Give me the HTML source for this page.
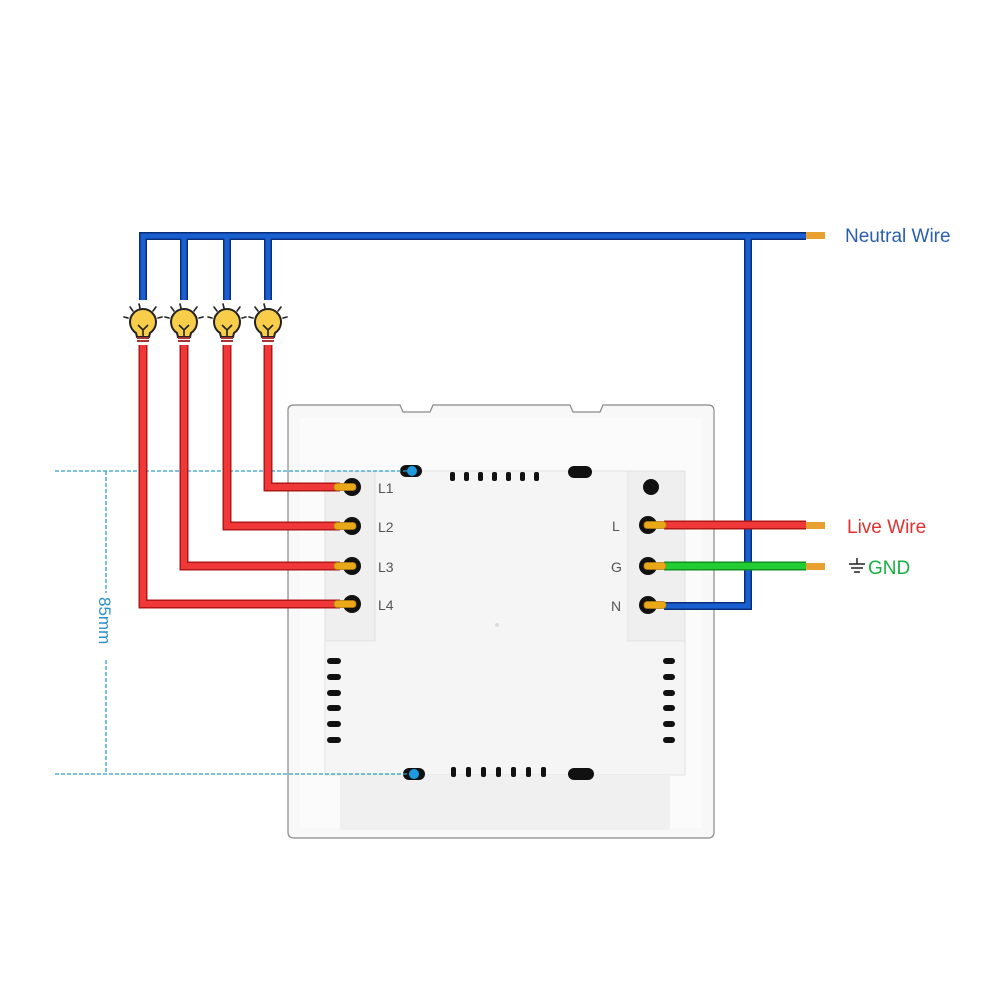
<!DOCTYPE html>
<html><head><meta charset="utf-8"><style>html,body{margin:0;padding:0;background:#fff}svg{display:block}</style></head>
<body>
<svg width="1000" height="1000" viewBox="0 0 1000 1000" xmlns="http://www.w3.org/2000/svg" font-family="Liberation Sans, sans-serif">
<defs>
<g id="bulb">
  <g stroke="#222" stroke-width="1.6" stroke-linecap="round">
    <line x1="-13" y1="-16" x2="-10" y2="-12"/><line x1="13" y1="-16" x2="10" y2="-12"/>
    <line x1="-19" y1="-6" x2="-15" y2="-5"/><line x1="19" y1="-6" x2="15" y2="-5"/>
    <line x1="-4" y1="-19" x2="-3" y2="-15"/>
  </g>
  <path d="M-7,10 A13,13 0 1 1 7,10 L6,14 L-6,14 Z" fill="#f8cd4a" stroke="#222" stroke-width="2"/>
  <path d="M-5,2 L0,7 L5,2 M0,7 L0,13" fill="none" stroke="#222" stroke-width="1.6"/>
  <rect x="-6" y="14" width="12" height="2" fill="#a33"/>
  <rect x="-6" y="17" width="12" height="2" fill="#a33"/>
</g>
<g id="term"><circle r="9" fill="#111"/><rect x="-18" y="-3.5" width="22" height="7" rx="3" fill="#e8a818" stroke="#b07a10" stroke-width="0.8"/></g>
</defs>

<path d="M288,410 Q288,405 294,405 L400,405 L403,412 L430,412 L433,405 L570,405 L573,412 L600,412 L603,405 L708,405 Q714,405 714,411 L714,832 Q714,838 708,838 L294,838 Q288,838 288,832 Z" fill="#f8f8f8" stroke="#888" stroke-width="1.2"/>
<rect x="300" y="418" width="402" height="410" fill="#fbfbfb"/>
<rect x="325" y="471" width="360" height="304" fill="#f5f5f5" stroke="#e2e2e2"/>
<rect x="325" y="471" width="50" height="170" fill="#efefef" stroke="#e2e2e2"/>
<rect x="628" y="471" width="57" height="170" fill="#efefef" stroke="#e2e2e2"/>
<rect x="340" y="775" width="330" height="55" fill="#f0f0f0"/>
<g fill="#111">
<rect x="400" y="465" width="22" height="12" rx="6"/>
<rect x="568" y="466" width="24" height="12" rx="6"/>
<rect x="450" y="472" width="5" height="9" rx="2"/><rect x="464" y="472" width="5" height="9" rx="2"/>
<rect x="478" y="472" width="5" height="9" rx="2"/><rect x="492" y="472" width="5" height="9" rx="2"/>
<rect x="506" y="472" width="5" height="9" rx="2"/><rect x="520" y="472" width="5" height="9" rx="2"/>
<rect x="534" y="472" width="5" height="9" rx="2"/>
<circle cx="651" cy="487" r="8"/>
<rect x="403" y="768" width="22" height="12" rx="6"/>
<rect x="568" y="768" width="26" height="12" rx="6"/>
<rect x="451" y="767" width="5" height="10" rx="2"/><rect x="466" y="767" width="5" height="10" rx="2"/>
<rect x="481" y="767" width="5" height="10" rx="2"/><rect x="496" y="767" width="5" height="10" rx="2"/>
<rect x="511" y="767" width="5" height="10" rx="2"/><rect x="526" y="767" width="5" height="10" rx="2"/>
<rect x="541" y="767" width="5" height="10" rx="2"/>
<rect x="327" y="658" width="14" height="6" rx="3"/><rect x="327" y="674" width="14" height="6" rx="3"/>
<rect x="327" y="690" width="14" height="6" rx="3"/><rect x="327" y="705" width="14" height="6" rx="3"/>
<rect x="327" y="721" width="14" height="6" rx="3"/><rect x="327" y="737" width="14" height="6" rx="3"/>
<rect x="663" y="658" width="12" height="6" rx="3"/><rect x="663" y="674" width="12" height="6" rx="3"/>
<rect x="663" y="690" width="12" height="6" rx="3"/><rect x="663" y="705" width="12" height="6" rx="3"/>
<rect x="663" y="721" width="12" height="6" rx="3"/><rect x="663" y="737" width="12" height="6" rx="3"/>
</g>
<circle cx="412" cy="471" r="5" fill="#1e9be0"/>
<circle cx="414" cy="774" r="5" fill="#1e9be0"/>
<circle cx="497" cy="625" r="2" fill="#ddd"/>

<g stroke="#2aa0d0" stroke-width="1.3" stroke-dasharray="4,2" fill="none">
<line x1="55" y1="471" x2="408" y2="471"/>
<line x1="55" y1="774" x2="410" y2="774"/>
<line x1="106" y1="471" x2="106" y2="593"/>
<line x1="106" y1="660" x2="106" y2="774"/>
</g>
<text x="0" y="0" transform="translate(99,597) rotate(90)" font-size="17" fill="#2a8fc8">85mm</text>

<g fill="none" stroke-linejoin="miter">
<path d="M143,300 L143,236 L806,236 M184,300 L184,236 M227,300 L227,236 M268,300 L268,236 M748,236 L748,606 L664,606" stroke="#0a2f7a" stroke-width="8"/>
<path d="M143,300 L143,236 L806,236 M184,300 L184,236 M227,300 L227,236 M268,300 L268,236 M748,236 L748,606 L664,606" stroke="#1a5fd0" stroke-width="5"/>
<path d="M268,345 L268,487 L340,487 M227,345 L227,526 L340,526 M184,345 L184,566 L340,566 M143,345 L143,604 L340,604 M664,525 L806,525" stroke="#b01818" stroke-width="9"/>
<path d="M268,345 L268,487 L340,487 M227,345 L227,526 L340,526 M184,345 L184,566 L340,566 M143,345 L143,604 L340,604 M664,525 L806,525" stroke="#f03838" stroke-width="6"/>
<path d="M664,566 L806,566" stroke="#109020" stroke-width="9"/>
<path d="M664,566 L806,566" stroke="#22cc33" stroke-width="6"/>
</g>
<g fill="#e8a030"><rect x="806" y="232" width="19" height="7"/><rect x="806" y="522" width="19" height="7"/><rect x="806" y="563" width="19" height="7"/></g>

<use href="#bulb" x="143" y="323"/><use href="#bulb" x="184" y="323"/>
<use href="#bulb" x="227" y="323"/><use href="#bulb" x="268" y="323"/>

<use href="#term" x="352" y="487"/><use href="#term" x="352" y="526"/>
<use href="#term" x="352" y="566"/><use href="#term" x="352" y="604"/>
<g transform="translate(648,0) scale(-1,1)"><use href="#term" x="0" y="525"/><use href="#term" x="0" y="566"/><use href="#term" x="0" y="605"/></g>

<g font-size="14" fill="#555">
<text x="378" y="493">L1</text><text x="378" y="532">L2</text><text x="378" y="572">L3</text><text x="378" y="610">L4</text>
<text x="612" y="531">L</text><text x="611" y="572">G</text><text x="611" y="611">N</text>
</g>
<text x="845" y="242" font-size="19" fill="#2a5fb0">Neutral Wire</text>
<text x="847" y="533" font-size="19" fill="#e53030">Live Wire</text>
<text x="868" y="574" font-size="19" fill="#18b040">GND</text>
<g stroke="#222" stroke-width="1.5"><line x1="857" y1="558" x2="857" y2="564"/><line x1="849" y1="564" x2="865" y2="564"/><line x1="851" y1="568" x2="863" y2="568"/><line x1="854" y1="572" x2="860" y2="572"/></g>
</svg>
</body></html>
